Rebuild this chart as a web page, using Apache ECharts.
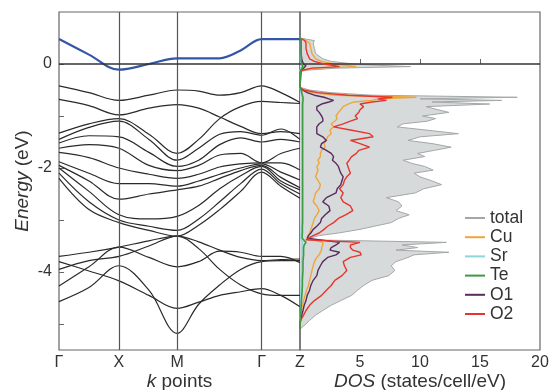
<!DOCTYPE html>
<html><head><meta charset="utf-8">
<script src="https://cdn.jsdelivr.net/npm/echarts@6/dist/echarts.min.js"></script>
<style>html,body{margin:0;padding:0;background:#fff}#c{width:558px;height:390px}</style>
</head><body><div id="c"></div>
<script>
// ---- band structure data ----
const kTicks = [0, 1, 1.97, 3.38, 4.02];
const kLabels = ['Γ', 'X', 'M', 'Γ', 'Z'];
const kPts = [0, 0.5, 1, 1.5, 1.97, 2.33, 2.68, 3.03, 3.38, 3.7, 4.02];
const conductionBand = [0.48, 0.18, -0.11, 0.00, 0.11, 0.11, 0.11, 0.26, 0.48, 0.48, 0.48];
const upperBands = [
  [-0.42,-0.55,-0.70,-0.60,-0.50,-0.52,-0.60,-0.55,-0.42,-0.55,-0.74],
  [-0.68,-0.80,-0.98,-0.85,-0.78,-0.85,-1.02,-1.20,-1.34,-1.30,-1.34],
  [-1.33,-1.15,-1.05,-1.35,-1.72,-1.45,-1.05,-0.82,-0.72,-0.74,-0.76],
  [-1.45,-1.22,-1.10,-1.45,-1.85,-1.62,-1.35,-1.30,-1.37,-1.25,-1.45],
  [-1.52,-1.38,-1.40,-1.70,-1.97,-1.85,-1.55,-1.42,-1.50,-1.45,-1.50],
  [-1.62,-1.55,-1.62,-1.95,-2.05,-1.95,-1.75,-1.72,-1.90,-1.72,-1.62],
  [-1.70,-1.80,-2.00,-2.12,-2.20,-2.12,-1.98,-1.92,-1.90,-1.90,-2.04],
  [-1.88,-2.10,-2.30,-2.30,-2.35,-2.25,-2.12,-2.00,-1.92,-2.08,-2.23],
  [-1.95,-2.25,-2.60,-2.50,-2.42,-2.35,-2.20,-2.05,-1.95,-2.18,-2.38],
  [-2.00,-2.45,-2.90,-2.98,-2.93,-2.72,-2.40,-2.15,-1.97,-2.25,-2.42],
  [-2.10,-2.65,-3.00,-3.12,-3.20,-2.98,-2.65,-2.30,-2.02,-2.30,-2.50],
  [-2.20,-2.80,-3.05,-3.20,-3.31,-3.10,-2.80,-2.45,-2.08,-2.35,-2.58]
];
const lowerBands = [
  [-3.70,-3.62,-3.52,-3.40,-3.31,-3.42,-3.58,-3.72,-3.78,-3.76,-3.75],
  [-3.80,-3.98,-4.17,-4.45,-4.70,-4.58,-4.45,-4.38,-4.32,-4.45,-4.67],
  [-4.27,-3.90,-3.52,-3.72,-3.90,-3.80,-3.60,-3.62,-3.70,-3.70,-3.82],
  [-4.57,-4.30,-3.88,-4.35,-5.18,-4.62,-4.25,-3.95,-3.80,-3.78,-3.78],
  [-3.95,-3.78,-3.70,-3.50,-3.31,-3.55,-3.95,-4.25,-4.42,-4.45,-4.45]
];
// ---- DOS data ----
const dosE = [0.50,0.45,0.40,0.30,0.20,0.10,0.05,0.00,-0.03,-0.05,-0.08,-0.12,-0.15,
  -0.45,-0.50,-0.55,-0.60,-0.64,-0.67,-0.70,-0.73,-0.77,-0.82,-0.88,-0.93,-1.00,
  -1.05,-1.10,-1.15,-1.21,-1.27,-1.34,-1.40,-1.47,-1.53,-1.60,-1.66,-1.72,-1.78,
  -1.85,-1.91,-1.97,-2.04,-2.10,-2.17,-2.24,-2.32,-2.40,-2.48,-2.57,-2.65,-2.73,
  -2.82,-2.90,-2.97,-3.05,-3.12,-3.18,-3.25,-3.30,-3.35,-3.38,-3.43,-3.48,-3.53,
  -3.58,-3.62,-3.67,-3.72,-3.80,-3.88,-3.97,-4.07,-4.16,-4.26,-4.35,-4.45,-4.55,
  -4.64,-4.74,-4.83,-4.93,-5.02,-5.10];
const dosTotal = [0,1.2,1.1,1.2,1.3,1.9,2.6,4.5,7.0,9.2,3.0,0.5,0,
  0,0.8,2.5,6.0,18.1,10.0,16.8,11.0,15.8,10.5,11.5,12.4,10.2,
  11.3,10.6,8.6,8.1,10.5,13.2,10.0,9.0,11.0,12.6,11.2,9.8,10.4,
  8.6,9.3,10.4,11.1,9.5,10.0,10.9,11.8,10.3,9.6,7.2,8.2,8.5,
  8.0,9.1,8.2,7.6,6.2,5.0,3.2,1.6,0.8,0.6,12.2,8.5,9.8,
  8.0,12.4,9.5,9.0,8.0,7.6,7.9,7.4,6.0,5.3,4.8,4.3,3.4,
  2.6,1.9,1.3,0.8,0.4,0];
const dosCu = [0,0.5,0.8,0.9,1.0,1.3,1.8,2.8,4.0,4.7,1.2,0.2,0,
  0,0.3,1.0,3.0,9.7,6.5,6.0,4.5,4.0,3.6,3.4,3.2,3.0,
  3.1,2.9,2.6,2.8,2.5,2.6,2.3,2.2,2.0,2.1,1.8,1.7,1.7,
  1.5,1.6,1.4,1.5,1.4,1.3,1.5,1.7,1.6,1.3,1.2,1.1,1.4,
  1.6,1.4,1.2,1.1,1.0,0.9,0.8,0.7,0.6,0.5,1.9,1.9,1.8,
  1.8,1.7,1.6,1.4,1.2,1.1,1.0,0.9,0.8,0.7,0.55,0.42,0.3,
  0.2,0.1,0.05,0,0,0];
const dosSr = [0,0.05,0.05,0.05,0.05,0.05,0.05,0.1,0.1,0.15,0.05,0,0,
  0,0.05,0.1,0.15,0.2,0.2,0.2,0.15,0.15,0.15,0.15,0.15,0.15,
  0.15,0.15,0.15,0.15,0.15,0.15,0.15,0.15,0.15,0.15,0.15,0.15,0.15,
  0.15,0.15,0.15,0.15,0.15,0.15,0.15,0.15,0.15,0.15,0.15,0.15,0.15,
  0.15,0.15,0.15,0.12,0.12,0.1,0.1,0.08,0.08,0.08,0.2,0.18,0.18,
  0.18,0.18,0.16,0.15,0.14,0.13,0.12,0.12,0.1,0.1,0.08,0.07,0.06,
  0.05,0.04,0.03,0.02,0,0];
const dosTe = [0,0.1,0.1,0.1,0.1,0.1,0.1,0.15,0.2,0.25,0.1,0.05,0,
  0,0.1,0.15,0.2,0.25,0.25,0.25,0.25,0.22,0.22,0.22,0.22,0.22,
  0.22,0.22,0.22,0.22,0.22,0.22,0.22,0.22,0.22,0.22,0.22,0.22,0.22,
  0.22,0.22,0.22,0.22,0.22,0.22,0.22,0.22,0.22,0.22,0.22,0.22,0.22,
  0.22,0.22,0.22,0.22,0.2,0.2,0.2,0.18,0.18,0.18,0.5,0.35,0.3,
  0.3,0.3,0.3,0.28,0.25,0.25,0.25,0.22,0.2,0.2,0.18,0.15,0.12,
  0.1,0.08,0.05,0.02,0,0];
const dosO1 = [0,0.1,0.1,0.1,0.1,0.15,0.2,0.3,0.5,0.6,0.3,0.1,0,
  0,0.2,0.6,1.2,2.0,2.4,2.8,2.4,1.8,1.4,1.4,1.6,1.8,
  1.9,1.9,1.6,1.4,1.4,1.4,1.9,2.2,1.8,1.7,2.2,2.6,2.8,
  2.7,3.0,3.2,3.3,3.4,3.6,3.5,3.4,3.1,3.0,2.2,1.9,2.4,
  2.5,2.1,1.8,1.7,1.4,1.1,0.9,0.7,0.6,0.5,3.3,3.0,2.6,
  2.5,3.3,3.0,2.3,1.9,1.7,1.5,1.4,1.1,0.9,0.8,0.6,0.5,
  0.35,0.25,0.15,0.05,0,0];
const dosO2 = [0,0.4,0.5,0.5,0.6,0.8,1.2,2.0,2.8,3.3,1.0,0.2,0,
  0,0.3,1.5,4.0,7.7,6.5,7.2,6.0,5.0,5.3,5.0,4.9,4.6,
  4.8,4.2,3.6,2.8,4.2,5.8,6.1,4.2,5.0,5.8,4.9,4.7,4.3,
  4.1,3.9,4.0,4.1,4.2,3.9,3.7,3.6,3.3,3.6,3.4,3.6,4.2,
  4.4,3.8,3.2,2.8,2.3,2.0,1.6,1.1,0.7,0.5,5.0,4.2,4.2,
  4.4,5.0,5.1,4.2,3.6,3.7,3.9,3.5,2.9,2.6,2.2,1.8,1.2,
  0.8,0.5,0.3,0.05,0,0];
const dosTicks = [5, 10, 15, 20];
const energyLabels = [-4, -2, 0];
const energyTicks = [-5, -4, -3, -2, -1, 0];

const FONT = 'Liberation Sans, Arial, Helvetica, sans-serif';
const chart = echarts.init(document.getElementById('c'));
const series = [];
upperBands.concat(lowerBands).forEach((b, i) => {
  series.push({
    type: 'line', name: 'band' + i, xAxisIndex: 0, yAxisIndex: 0,
    data: kPts.map((k, j) => [k, b[j]]), smooth: 0.35, symbol: 'none',
    lineStyle: { color: '#2a2a2a', width: 1.2 }, silent: true, z: 2
  });
});
series.push({
  type: 'line', name: 'cb', xAxisIndex: 0, yAxisIndex: 0,
  data: kPts.map((k, j) => [k, conductionBand[j]]), smooth: 0.35, symbol: 'none',
  lineStyle: { color: '#3556a6', width: 2.2 }, silent: true, z: 4,
  markLine: {
    silent: true, symbol: 'none', label: { show: false }, animation: false,
    data: [
      { xAxis: kTicks[1], lineStyle: { color: '#555', width: 1.2, type: 'solid' } },
      { xAxis: kTicks[2], lineStyle: { color: '#555', width: 1.2, type: 'solid' } },
      { xAxis: kTicks[3], lineStyle: { color: '#555', width: 1.2, type: 'solid' } },
      { yAxis: 0, lineStyle: { color: '#333', width: 1.5, type: 'solid' } }
    ]
  }
});
series.push({
  type: 'custom', name: 'totalFill', xAxisIndex: 1, yAxisIndex: 1, silent: true, z: 1,
  data: [[0, 0]], encode: { x: 0, y: 1 }, clip: true,
  renderItem: (params, api) => {
    const pts = [api.coord([0, dosE[0]])];
    dosE.forEach((e, i) => pts.push(api.coord([dosTotal[i], e])));
    pts.push(api.coord([0, dosE[dosE.length - 1]]));
    return { type: 'polygon', shape: { points: pts }, style: { fill: '#d6dada', stroke: null } };
  }
});
function dosLine(name, vals, color, w, z) {
  return {
    type: 'line', name: name, xAxisIndex: 1, yAxisIndex: 1, symbol: 'none',
    data: dosE.map((e, i) => [vals[i], e]), color: color,
    lineStyle: { color: color, width: w }, itemStyle: { color: color }, silent: true, z: z
  };
}
const totalLine = dosLine('total', dosTotal, '#a3a7a7', 1, 2);
totalLine.markLine = {
  silent: true, symbol: 'none', label: { show: false }, animation: false,
  data: [{ yAxis: 0, lineStyle: { color: '#333', width: 1.5, type: 'solid' } }]
};
series.push(totalLine);
series.push(dosLine('Cu', dosCu, '#f0a53a', 1.4, 3));
series.push(dosLine('Sr', dosSr, '#8fd6d6', 1.4, 3));
series.push(dosLine('O1', dosO1, '#5a2b5e', 1.4, 4));
series.push(dosLine('O2', dosO2, '#e8342c', 1.4, 5));
series.push(dosLine('Te', dosTe, '#3f9a45', 1.6, 6));

const grid = { top: 12, height: 338, show: true, borderColor: '#666', borderWidth: 1.2,
  backgroundColor: 'transparent', containLabel: false, outerBoundsMode: 'none' };
const titleStyle = { fontSize: 19, color: '#333', fontFamily: FONT,
  rich: { i: { fontStyle: 'italic', fontSize: 19, color: '#333', fontFamily: FONT } } };
chart.setOption({
  animation: false,
  textStyle: { fontFamily: FONT },
  grid: [Object.assign({ left: 59, width: 241 }, grid), Object.assign({ left: 300, width: 240 }, grid)],
  xAxis: [
    { type: 'value', gridIndex: 0, min: 0, max: kTicks[4],
      axisLine: { show: false }, axisTick: { show: false }, splitLine: { show: false },
      axisLabel: { customValues: kTicks, formatter: v => kLabels[kTicks.indexOf(v)],
        fontSize: 16, color: '#333', margin: 5, fontFamily: FONT },
      name: '{i|k} points', nameLocation: 'middle', nameGap: 22, nameMoveOverlap: false, nameTextStyle: titleStyle },
    { type: 'value', gridIndex: 1, min: 0, max: 20,
      axisLine: { show: false }, splitLine: { show: false },
      axisTick: { inside: true, length: 5, customValues: [5, 10, 15], lineStyle: { color: '#666' } },
      axisLabel: { customValues: dosTicks, fontSize: 16, color: '#333', margin: 5, fontFamily: FONT },
      name: '{i|DOS} (states/cell/eV)', nameLocation: 'middle', nameGap: 22, nameMoveOverlap: false, nameTextStyle: titleStyle }
  ],
  yAxis: [
    { type: 'value', gridIndex: 0, min: -5.5, max: 1,
      axisLine: { show: false }, splitLine: { show: false },
      axisTick: { inside: true, length: 5, customValues: energyTicks, lineStyle: { color: '#666' } },
      axisLabel: { customValues: energyLabels, fontSize: 16, color: '#333', margin: 7, fontFamily: FONT },
      name: '{i|Energy} (eV)', nameLocation: 'middle', nameGap: 27, nameRotate: 90, nameMoveOverlap: false, nameTextStyle: titleStyle },
    { type: 'value', gridIndex: 1, min: -5.5, max: 1,
      axisLine: { show: false }, splitLine: { show: false }, axisTick: { show: false }, axisLabel: { show: false } }
  ],
  legend: {
    data: ['total', 'Cu', 'Sr', 'Te', 'O1', 'O2'], orient: 'vertical', left: 465, top: 209,
    icon: 'rect', itemWidth: 20, itemHeight: 2, itemGap: 1.2, padding: 0, selectedMode: false,
    textStyle: { fontSize: 17.5, color: '#333', fontFamily: FONT }
  },
  series: series
});
</script></body></html>
